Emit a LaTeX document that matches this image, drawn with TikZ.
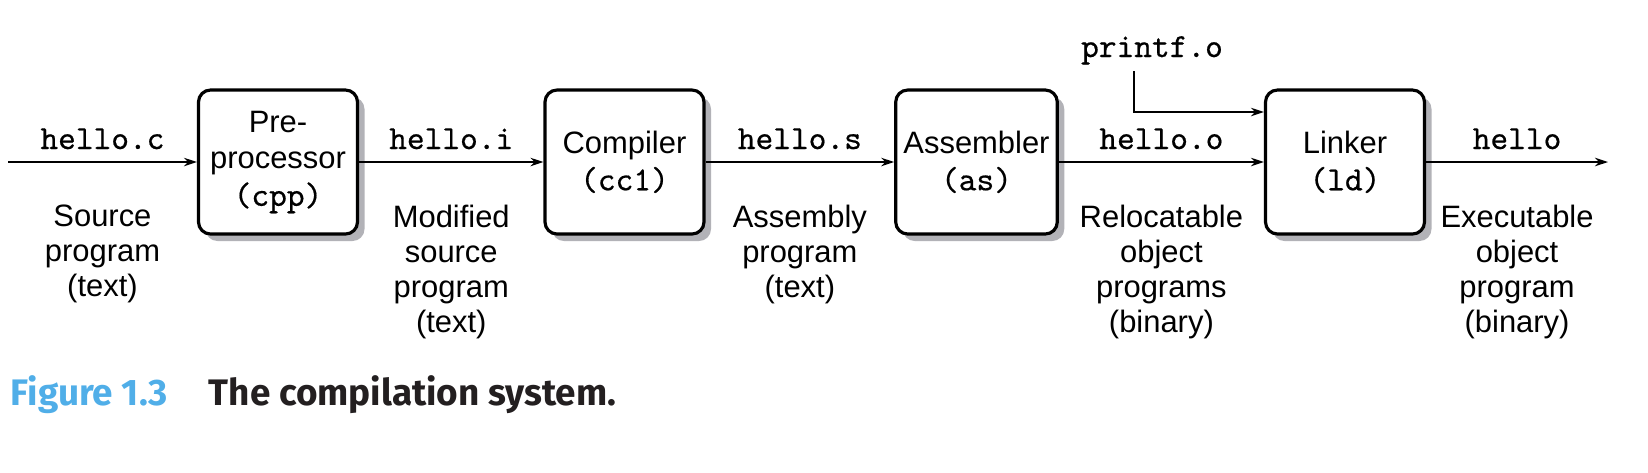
\documentclass[tikz,border=0pt]{standalone}
\usepackage{fontspec}
\setmainfont{Liberation Sans}
\setmonofont{Latin Modern Mono}[FakeBold=0.5]
\newfontfamily\capfont{Fira Sans}
\usepackage{xcolor}
\usetikzlibrary{arrows.meta}
\usetikzlibrary{positioning}
\usetikzlibrary{shadows}
\definecolor{figblue}{RGB}{80,174,232}
\definecolor{boxshadow}{RGB}{178,178,183}
\definecolor{captext}{RGB}{35,31,32}
\newcommand{\prog}[1]{{\fontsize{9.6}{10.5}\selectfont\ttfamily #1}}

\begin{document}
\begin{tikzpicture}[line width=0.45pt, node distance=3.5cm,
  main node/.style={draw, line width=0.9pt, rounded corners=0.12cm, fill=white, minimum width=1.59cm, minimum height=1.44cm, inner xsep=2.2pt, align=center, font=\fontsize{8.8}{10.5}\selectfont, drop shadow={shadow xshift=0.07cm, shadow yshift=-0.07cm, fill=boxshadow, opacity=1}},
  file node/.style={inner sep=0pt, font=\fontsize{9.6}{10.5}\selectfont\ttfamily},
  text node/.style={inner sep=0pt, align=center, font=\fontsize{8.8}{10}\selectfont}]
			\useasboundingbox (0,0) rectangle (16.48,-4.72);
			
			% Nodes
			\node[main node] (pre) at (2.78,-1.62) {Pre-\\processor\\\prog{(cpp)}};
			\node[main node] (cc) [right of=pre, xshift=-0.035cm] {Compiler\\\prog{(cc1)}};
			\node[main node] (as) [right of=cc, xshift=0.02cm] {Assembler\\\prog{(as)}};
			\node[main node] (ld) [right of=as, xshift=0.185cm] {Linker\\\prog{(ld)}};
			
			\coordinate (src) at (0.08,-1.62);
			\coordinate (exe) at (16.08,-1.62);
			\node[file node, anchor=base] (printf) at (11.52,-0.57) {printf.o};
			
			\path[->, >={Stealth[length=0.13cm, width=0.085cm]}]
			(src)
			edge node[file node, above=0.12cm] {hello.c} node[text node, below=0.42cm] {Source\\program\\(text)} (pre)
			
			(pre)
			edge node[file node, above=0.12cm] {hello.i} node[text node, below=0.42cm] {Modified\\source\\program\\(text)} (cc)
			
			(cc)
			edge node[file node, above=0.12cm] {hello.s} node[text node, below=0.42cm] {Assembly\\program\\(text)} (as)
			
			(as)
			edge node[file node, above=0.12cm] {hello.o} node[text node, below=0.42cm] {Relocatable\\object\\programs\\(binary)} (ld)
			
			(ld)
			edge node[file node, above=0.12cm] {hello} node[text node, below=0.42cm] {Executable\\object\\program\\(binary)} (exe);
			
			\draw[->, >={Stealth[length=0.13cm, width=0.085cm]}] ([xshift=-0.18cm, yshift=-0.06cm]printf.south) |- ([yshift=0.5cm]ld.west);
			
			% Caption
			\node[anchor=base west, inner sep=0pt, font=\capfont\bfseries\fontsize{10.5}{12}\selectfont, text=figblue] (fig) at (0.10,-4.05) {Figure 1.3};
			\node[anchor=base west, inner sep=0pt, font=\capfont\bfseries\fontsize{10.5}{12}\selectfont, text=captext] (title) at (2.08,-4.05) {The compilation system.};
			
		\end{tikzpicture}
\end{document}
